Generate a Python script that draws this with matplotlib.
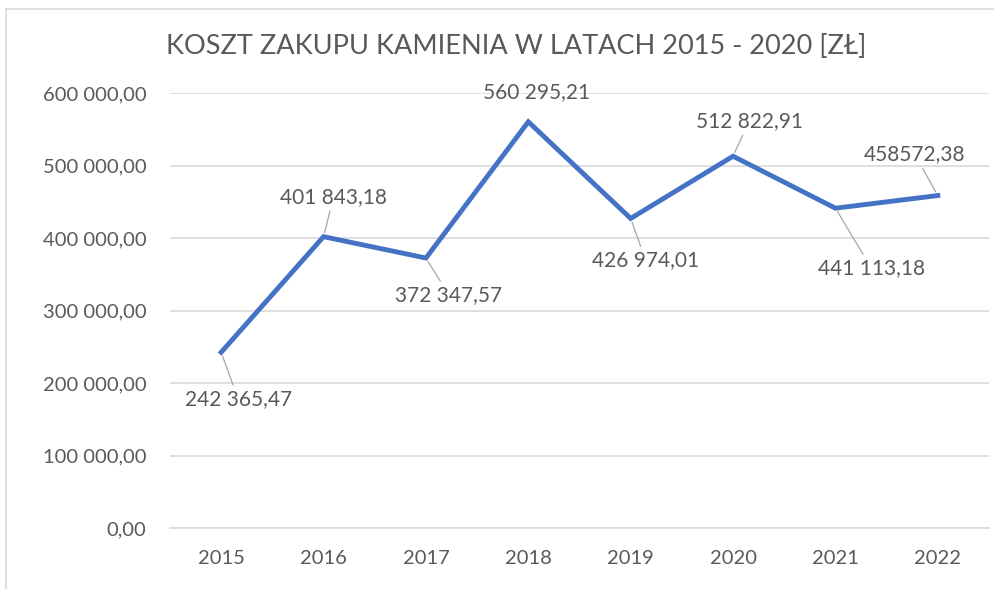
import matplotlib
matplotlib.use("Agg")
import matplotlib.pyplot as plt
from matplotlib.ticker import FuncFormatter
from matplotlib.lines import Line2D

plt.rcParams["font.family"] = ["Lato", "DejaVu Sans"]

years = ["2015", "2016", "2017", "2018", "2019", "2020", "2021", "2022"]
costs = [242365.47, 401843.18, 372347.57, 560295.21, 426974.01, 512822.91, 441113.18, 458572.38]
labels = ["242 365,47", "401 843,18", "372 347,57", "560 295,21",
          "426 974,01", "512 822,91", "441 113,18", "458572,38"]
# label offsets in pixels from each point (dx, dy), and whether a leader line is drawn
offsets = [(17, -47), (10, 40), (23, -37), (8, 30), (15, -42), (16, 35), (36, -60), (-23, 41)]
leaders = [True, True, True, False, True, True, True, True]

textColor = "#595959"
gridColor = "#d9d9d9"
lineColor = "#4472C4"

fig = plt.figure(figsize=(9.94, 5.89), dpi=100)
ax = fig.add_axes([170 / 994, 1 - 528 / 589, 819 / 994, 435 / 589])

x = list(range(len(years)))
ax.plot(x, costs, color=lineColor, linewidth=3.5, solid_joinstyle="miter", zorder=3)

ax.set_xlim(-0.5, len(years) - 0.5)
ax.set_ylim(0, 600000)
ax.set_yticks(range(0, 600001, 100000))
ax.yaxis.set_major_formatter(FuncFormatter(lambda v, p: f"{int(v):,}".replace(",", " ") + ",00"))
ax.set_xticks(x)
ax.set_xticklabels(years)

ax.grid(axis="y", color=gridColor, linewidth=1.2)
ax.set_axisbelow(True)
for s in ["top", "right", "left"]:
    ax.spines[s].set_visible(False)
ax.spines["bottom"].set_color(gridColor)
ax.spines["bottom"].set_linewidth(1.2)
ax.tick_params(axis="both", length=0, colors=textColor, labelsize=14.5)
ax.tick_params(axis="x", pad=16)
ax.tick_params(axis="y", pad=17)

for i, (val, lab, off, lead) in enumerate(zip(costs, labels, offsets, leaders)):
    ax.annotate(lab, xy=(i, val), xytext=off, textcoords="offset pixels",
                ha="center", va="center", fontsize=15, color=textColor, zorder=4,
                arrowprops=dict(arrowstyle="-", color="#a6a6a6", linewidth=0.9,
                                shrinkA=1, shrinkB=3) if lead else None)

fig.text(0.519, 1 - 47 / 589, "KOSZT ZAKUPU KAMIENIA W LATACH 2015 - 2020 [ZŁ]",
         ha="center", va="center", fontsize=19.5, color=textColor)

# chart frame visible on top and left
fig.add_artist(Line2D([6 / 994, 1], [1 - 9 / 589, 1 - 9 / 589], transform=fig.transFigure,
                      color=gridColor, linewidth=1.2))
fig.add_artist(Line2D([6 / 994, 6 / 994], [1 - 9 / 589, 0], transform=fig.transFigure,
                      color=gridColor, linewidth=1.2))

fig.savefig("out.png", dpi=100)
